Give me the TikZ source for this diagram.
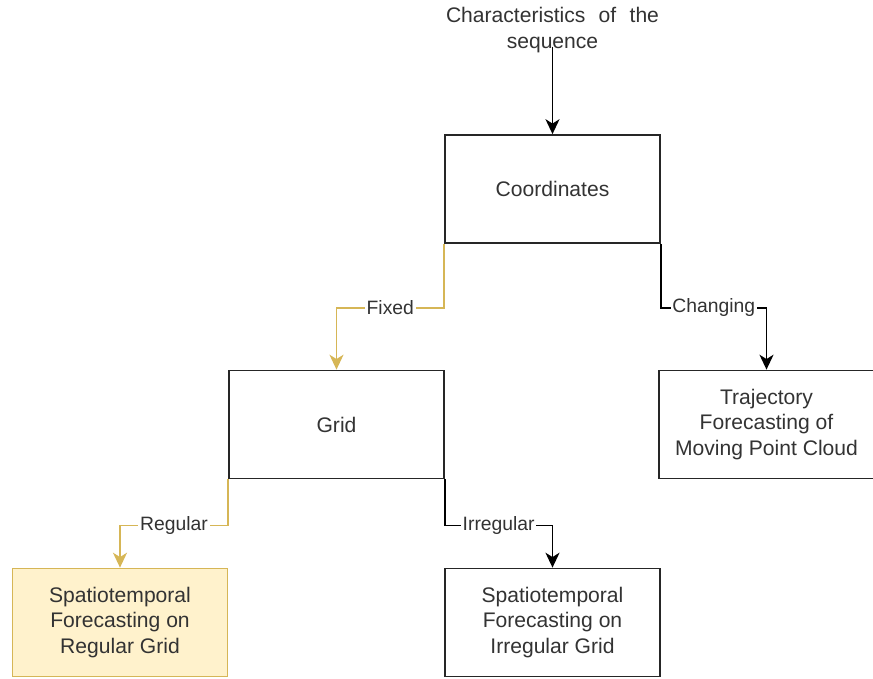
\documentclass[tikz,border=0pt]{standalone}
\usepackage{fontspec}
\setmainfont{Liberation Sans}
\usepackage{xcolor}
\usepackage{tikz}
\usetikzlibrary{calc,positioning,arrows.meta}
\definecolor{goldline}{HTML}{D6B656}
\definecolor{goldfill}{HTML}{FFF2CC}
\definecolor{txtgray}{HTML}{333333}

\begin{document}
\begin{tikzpicture}[transform shape,scale=1,
	box/.style={draw=black!85,line width=1pt,minimum width=4.3cm,minimum height=2.16cm,align=center,text=txtgray,font=\fontsize{12}{14.5}\selectfont},
	goldbox/.style={box,draw=goldline,fill=goldfill},
	link/.style={draw=black,line width=1pt,-{Stealth[length=8.5pt,width=8pt,inset=2.5pt]}},
	goldlink/.style={link,draw=goldline,-{Stealth[length=8.5pt,width=8pt,inset=2.5pt,fill=goldline]}},
	lbl/.style={fill=white,inner sep=1pt,text=txtgray,font=\fontsize{11}{13}\selectfont}]
	\useasboundingbox (0,0) rectangle (17.46,-13.56);
	\node[align=center,text=txtgray,font=\fontsize{12}{14.7}\selectfont] (title) at (11.05,-0.6) {\makebox[4.26cm][s]{Characteristics of the}\\sequence};
	\coordinate (src) at (11.05,-0.93);
	\node[box] (coord) at (11.05,-3.78) {Coordinates};
	\node[box] (grid) at (6.73,-8.49) {Grid};
	\node[box] (traj) at (15.33,-8.49) {Trajectory\\Forecasting of\\Moving Point Cloud};
	\node[goldbox] (reg) at (2.4,-12.45) {Spatiotemporal\\Forecasting on\\Regular Grid};
	\node[box] (irreg) at (11.05,-12.45) {Spatiotemporal\\Forecasting on\\Irregular Grid};
	\draw[link] (src) -- (coord.north);
	\draw[goldlink] (coord.south west) -- ++(0,-1.28) -| node[lbl,pos=0.25] {Fixed} (grid.north);
	\draw[link] (coord.south east) -- ++(0,-1.28) -| node[lbl,pos=0.25] {Changing} (traj.north);
	\draw[goldlink] (grid.south west) -- ++(0,-0.92) -| node[lbl,pos=0.25] {Regular} (reg.north);
	\draw[link] (grid.south east) -- ++(0,-0.92) -| node[lbl,pos=0.25] {Irregular} (irreg.north);
\end{tikzpicture}
\end{document}
